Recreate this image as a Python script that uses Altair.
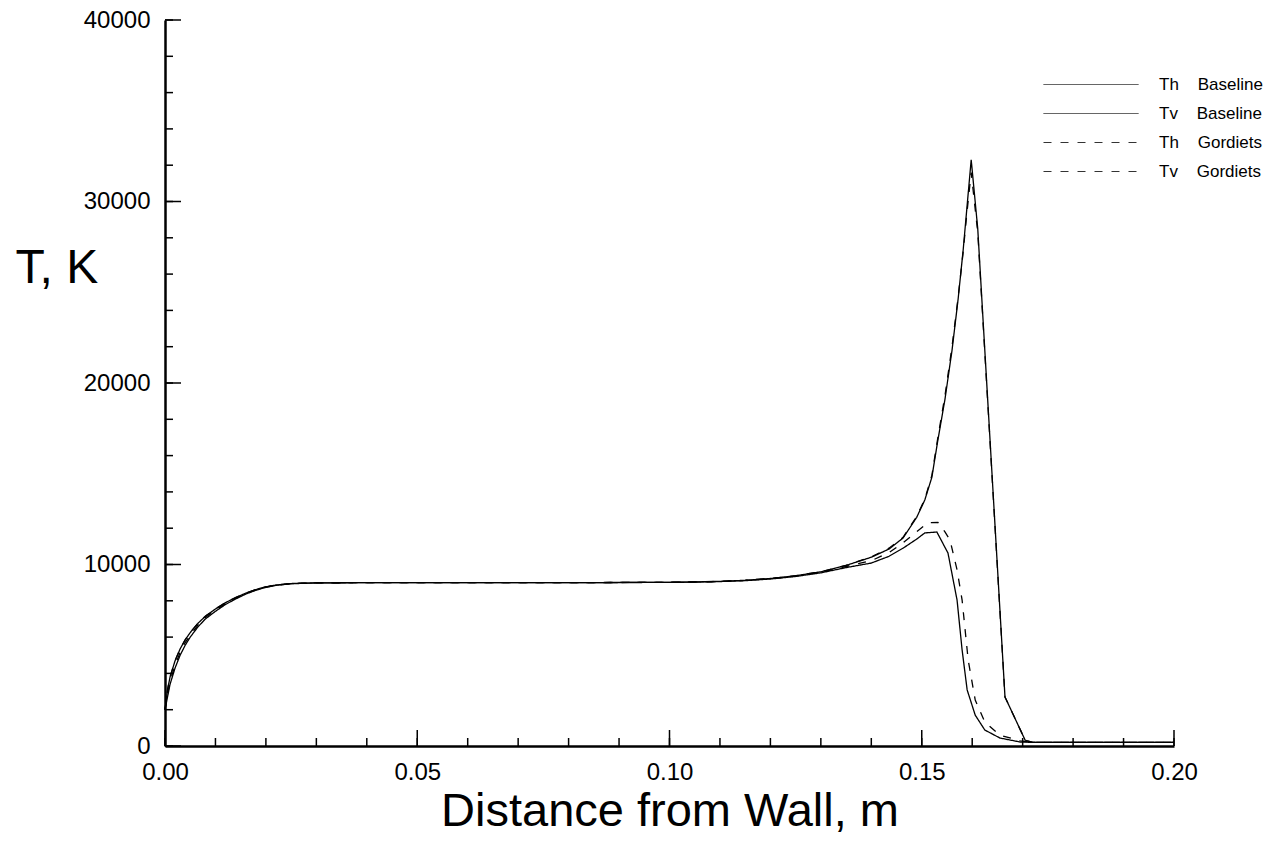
import altair as alt
import pandas as pd

# Temperature profiles across the shock layer (distance from wall in m, temperature in K)
series_names = ["Th Baseline", "Tv Baseline", "Th Gordiets", "Tv Gordiets"]

x_th = [0, 0.0005, 0.001, 0.002, 0.003, 0.004, 0.005, 0.0065, 0.008, 0.01, 0.012, 0.014,
        0.016, 0.018, 0.02, 0.022, 0.025, 0.03, 0.04, 0.05, 0.06, 0.07, 0.08, 0.09, 0.10,
        0.105, 0.11, 0.115, 0.12, 0.125, 0.13, 0.135, 0.14, 0.1435, 0.1463, 0.149, 0.1506,
        0.152, 0.1532, 0.1546, 0.156, 0.1572, 0.1582, 0.159, 0.1598, 0.1611, 0.1665, 0.1705,
        0.172, 0.18, 0.19, 0.20]
th_baseline = [2000, 3100, 3800, 4700, 5350, 5850, 6250, 6750, 7150, 7550, 7900, 8180,
               8420, 8620, 8770, 8870, 8950, 8990, 9000, 9000, 9000, 9000, 9000, 9010, 9020,
               9040, 9070, 9130, 9230, 9380, 9600, 9950, 10400, 10850, 11460, 12600, 13550,
               14800, 16860, 19100, 21800, 24600, 27300, 29800, 32300, 28500, 2700, 320,
               200, 200, 200, 200]
th_gordiets = [2000, 3100, 3800, 4700, 5350, 5850, 6250, 6750, 7150, 7550, 7900, 8180,
               8420, 8620, 8770, 8870, 8950, 8990, 9000, 9000, 9000, 9000, 9000, 9010, 9020,
               9040, 9070, 9130, 9230, 9380, 9600, 9950, 10420, 10900, 11500, 12650, 13600,
               14900, 17000, 19300, 22000, 24700, 27200, 29500, 31600, 28300, 2700, 320,
               200, 200, 200, 200]

x_tv_baseline = [0, 0.0005, 0.001, 0.002, 0.003, 0.004, 0.005, 0.0065, 0.008, 0.01, 0.012,
                 0.014, 0.016, 0.018, 0.02, 0.022, 0.025, 0.03, 0.04, 0.05, 0.06, 0.07, 0.08,
                 0.09, 0.10, 0.105, 0.11, 0.115, 0.12, 0.125, 0.13, 0.135, 0.14, 0.1435,
                 0.1463, 0.149, 0.1506, 0.153, 0.1552, 0.157, 0.158, 0.159, 0.1606, 0.1625,
                 0.1655, 0.1695, 0.172, 0.18, 0.19, 0.20]
tv_baseline = [2000, 2700, 3400, 4300, 5000, 5550, 6000, 6550, 7000, 7420, 7800, 8100, 8370,
               8580, 8740, 8850, 8940, 8985, 9000, 9000, 9000, 9000, 9000, 9005, 9015, 9030,
               9060, 9110, 9200, 9340, 9540, 9830, 10080, 10450, 10900, 11400, 11740, 11790,
               10630, 8040, 5290, 3090, 1700, 880, 440, 220, 200, 200, 200, 200]

x_tv_gordiets = [0, 0.0005, 0.001, 0.002, 0.003, 0.004, 0.005, 0.0065, 0.008, 0.01, 0.012,
                 0.014, 0.016, 0.018, 0.02, 0.022, 0.025, 0.03, 0.04, 0.05, 0.06, 0.07, 0.08,
                 0.09, 0.10, 0.105, 0.11, 0.115, 0.12, 0.125, 0.13, 0.135, 0.14, 0.1435,
                 0.1463, 0.149, 0.1512, 0.1532, 0.1546, 0.1556, 0.157, 0.158, 0.1592, 0.1606,
                 0.1625, 0.1655, 0.1695, 0.172, 0.18, 0.19, 0.20]
tv_gordiets = [2000, 2850, 3550, 4450, 5150, 5700, 6100, 6650, 7080, 7480, 7850, 8140, 8390,
               8600, 8755, 8860, 8945, 8988, 9000, 9000, 9000, 9000, 9000, 9008, 9018, 9035,
               9065, 9120, 9215, 9360, 9570, 9890, 10210, 10650, 11200, 11800, 12300, 12320,
               11800, 11350, 9700, 8040, 4740, 2530, 1320, 600, 280, 200, 200, 200, 200]

# Axis tick positions
x_major = [0.0, 0.05, 0.10, 0.15, 0.20]
x_minor = [i / 100 for i in range(0, 21)]
y_major = [0, 10000, 20000, 30000, 40000]
y_minor = [i * 2000 for i in range(0, 21)]

W, H = 1009, 726

rows = []
for name, xs, ts in [
    ("Th Baseline", x_th, th_baseline),
    ("Tv Baseline", x_tv_baseline, tv_baseline),
    ("Th Gordiets", x_th, th_gordiets),
    ("Tv Gordiets", x_tv_gordiets, tv_gordiets),
]:
    for i, (xv, tv) in enumerate(zip(xs, ts)):
        rows.append({"series": name, "x": xv, "T": tv, "order": i})
profiles = pd.DataFrame(rows)

xscale = alt.Scale(domain=[0, 0.2], nice=False, zero=False)
yscale = alt.Scale(domain=[0, 40000], nice=False)

x_axis = alt.Axis(values=x_major, format=".2f", ticks=False, tickSize=0,
                  labelFontSize=24, labelPadding=14, labelColor="black", labelFlush=False,
                  domainColor="black", domainWidth=2.5, grid=False,
                  title="Distance from Wall, m", titleFontSize=47,
                  titleFontWeight="normal", titleColor="black",
                  titleY=79, titleBaseline="alphabetic")
y_axis = alt.Axis(values=y_major, format="d", ticks=False, tickSize=0,
                  labelFontSize=24, labelPadding=15, labelColor="black", labelFlush=False,
                  domainColor="black", domainWidth=2.5, grid=False,
                  title="T, K", titleFontSize=48, titleFontWeight="normal",
                  titleColor="black", titleAngle=0, titleX=-150, titleY=248,
                  titleAlign="left", titleBaseline="middle")

lines = alt.Chart(profiles).mark_line(color="black", strokeWidth=1.3).encode(
    x=alt.X("x:Q", scale=xscale, axis=x_axis, title="Distance from Wall, m"),
    y=alt.Y("T:Q", scale=yscale, axis=y_axis, title="T, K"),
    strokeDash=alt.StrokeDash(
        "series:N",
        scale=alt.Scale(domain=series_names, range=[[1, 0], [1, 0], [8, 9], [8, 9]]),
        legend=alt.Legend(orient="none", legendX=878, legendY=56, title=None,
                          symbolType="stroke", symbolSize=9025, symbolStrokeWidth=1,
                          symbolStrokeColor="#333", clipHeight=17, rowPadding=11,
                          labelFontSize=17, labelOffset=20, labelColor="black",
                          padding=0,
                          labelExpr="replace(datum.label, ' ', '\u00a0\u00a0\u00a0\u00a0')"),
    ),
    detail="series:N",
    order="order:Q",
)

# Inward-pointing tick marks on both axes
def xticks(vals, length):
    return alt.Chart(pd.DataFrame({"x": vals})).mark_rule(color="black", strokeWidth=1.5).encode(
        x=alt.X("x:Q", scale=xscale, axis=x_axis, title="Distance from Wall, m"),
        y=alt.value(H), y2=alt.value(H - length))

def yticks(vals, length):
    return alt.Chart(pd.DataFrame({"T": vals})).mark_rule(color="black", strokeWidth=1.5).encode(
        y=alt.Y("T:Q", scale=yscale, axis=y_axis, title="T, K"),
        x=alt.value(0), x2=alt.value(length))

chart = alt.layer(
    lines,
    xticks(x_minor, 8), xticks(x_major, 16),
    yticks(y_minor, 8), yticks(y_major, 16),
).properties(
    width=W, height=H,
    autosize=alt.AutoSizeParams(type="none"),
    padding={"left": 165, "top": 20, "right": 107, "bottom": 105},
).configure(
    font="Liberation Sans",
).configure_view(stroke=None)

chart.save("out.html", embed_options={"renderer": "svg", "actions": False})
